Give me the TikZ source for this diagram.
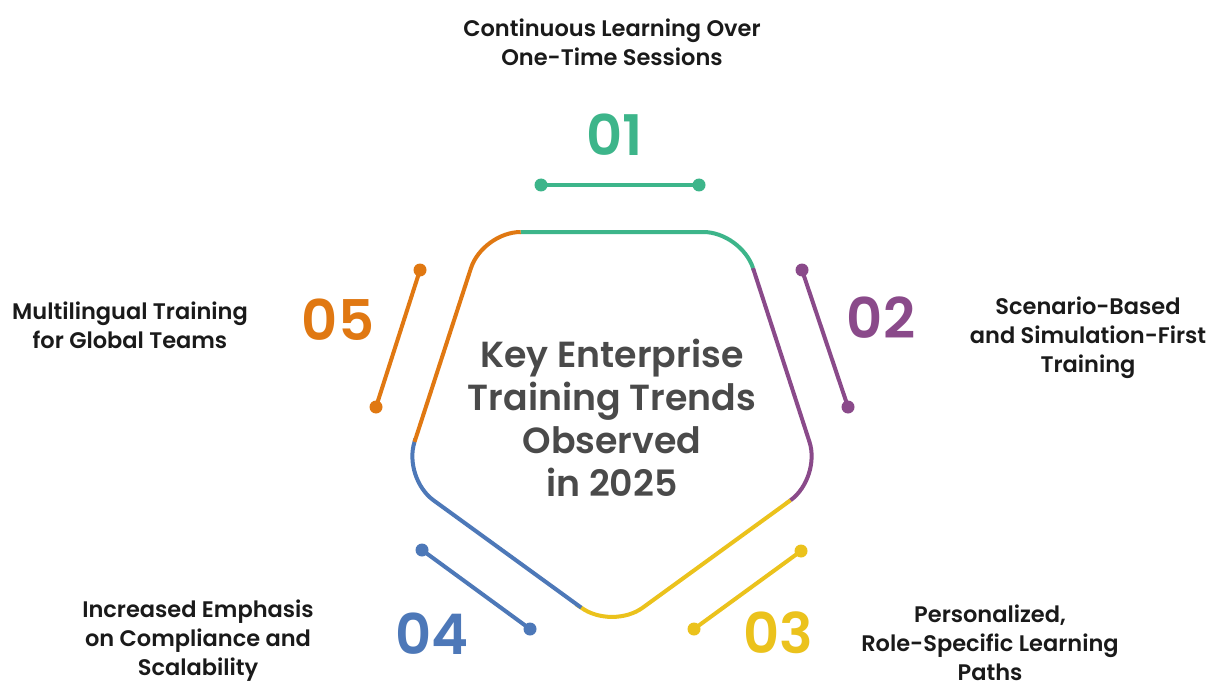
\documentclass[tikz,border=0pt]{standalone}
\usepackage{fontspec}
\setmainfont{Poppins}[UprightFont=* SemiBold, BoldFont=* Bold]
\usetikzlibrary{calc}
\definecolor{cgreen}{HTML}{3DB58A}
\definecolor{cpurple}{HTML}{8A4A8A}
\definecolor{cyellow}{HTML}{EBC21C}
\definecolor{cblue}{HTML}{4D78B8}
\definecolor{corange}{HTML}{E07812}
\definecolor{cgray}{HTML}{4A4A4A}
\definecolor{ctext}{HTML}{1A1A1A}
\tikzset{
  edge/.style={line width=4bp, line cap=butt, rounded corners=38bp},
  stub/.style={line width=4bp},
  dot/.style={circle, fill, inner sep=0pt, minimum size=13bp},
  num/.style={font=\fontsize{56bp}{60bp}\selectfont, inner sep=0pt},
  lbl/.style={font=\fontsize{22.5bp}{29bp}\selectfont, text=ctext, align=center, inner sep=0pt},
  title/.style={font=\fontsize{36.3bp}{43bp}\selectfont, text=cgray, align=center, inner sep=0pt}
}
\begin{document}
\begin{tikzpicture}[x=1bp, y=-1bp]
\useasboundingbox[fill=white] (0,0) rectangle (1210,681);
% pentagon vertices
\coordinate (TL) at (482.7,232);
\coordinate (TR) at (741.3,232);
\coordinate (R) at (821.2,478);
\coordinate (B) at (612,630);
\coordinate (L) at (402.8,478);
\coordinate (J1) at ($(TL)!38bp!(TR)$);
\coordinate (J2) at ($(TR)!38bp!(R)$);
\coordinate (J3) at ($(R)!38bp!(B)$);
\coordinate (J4) at ($(B)!38bp!(L)$);
\coordinate (J5) at ($(L)!38bp!(TL)$);
\draw[edge, cgreen] (J1) -- (TR) -- (J2);
\draw[edge, cpurple] (J2) -- (R) -- (J3);
\draw[edge, cyellow] (J3) -- (B) -- (J4);
\draw[edge, cblue] (J4) -- (L) -- (J5);
\draw[edge, corange] (J5) -- (TL) -- (J1);
% center title
\node[title] (ttl) at (612,418) {Key Enterprise\\Training Trends\\Observed\\in 2025};
% 01
\node[lbl] (t1) at (612,42) {Continuous Learning Over\\One-Time Sessions};
\node[num, text=cgreen] (n1) at (615,135) {01};
\coordinate (a1) at (541,185);
\coordinate (b1) at (699,185);
\draw[stub, cgreen] (a1) -- (b1);
\node[dot, cgreen] (d1a) at (a1) {};
\node[dot, cgreen] (d1b) at (b1) {};
% 02
\node[lbl] (t2) at (1088,338) {Scenario-Based\\and Simulation-First\\Training};
\node[num, text=cpurple] (n2) at (881,318) {02};
\coordinate (a2) at (802,270);
\coordinate (b2) at (848,407);
\draw[stub, cpurple] (a2) -- (b2);
\node[dot, cpurple] (d2a) at (a2) {};
\node[dot, cpurple] (d2b) at (b2) {};
% 03
\node[lbl] (t3) at (990,643) {Personalized,\\Role-Specific Learning\\Paths};
\node[num, text=cyellow] (n3) at (778,633) {03};
\coordinate (a3) at (801,551);
\coordinate (b3) at (694,629);
\draw[stub, cyellow] (a3) -- (b3);
\node[dot, cyellow] (d3a) at (a3) {};
\node[dot, cyellow] (d3b) at (b3) {};
% 04
\node[lbl] (t4) at (198,641) {Increased Emphasis\\on Compliance and\\Scalability};
\node[num, text=cblue] (n4) at (432,634) {04};
\coordinate (a4) at (422,550);
\coordinate (b4) at (530,629);
\draw[stub, cblue] (a4) -- (b4);
\node[dot, cblue] (d4a) at (a4) {};
\node[dot, cblue] (d4b) at (b4) {};
% 05
\node[lbl] (t5) at (130,325) {Multilingual Training\\for Global Teams};
\node[num, text=corange] (n5) at (338,320) {05};
\coordinate (a5) at (420,270);
\coordinate (b5) at (376,407);
\draw[stub, corange] (a5) -- (b5);
\node[dot, corange] (d5a) at (a5) {};
\node[dot, corange] (d5b) at (b5) {};
\end{tikzpicture}
\end{document}
